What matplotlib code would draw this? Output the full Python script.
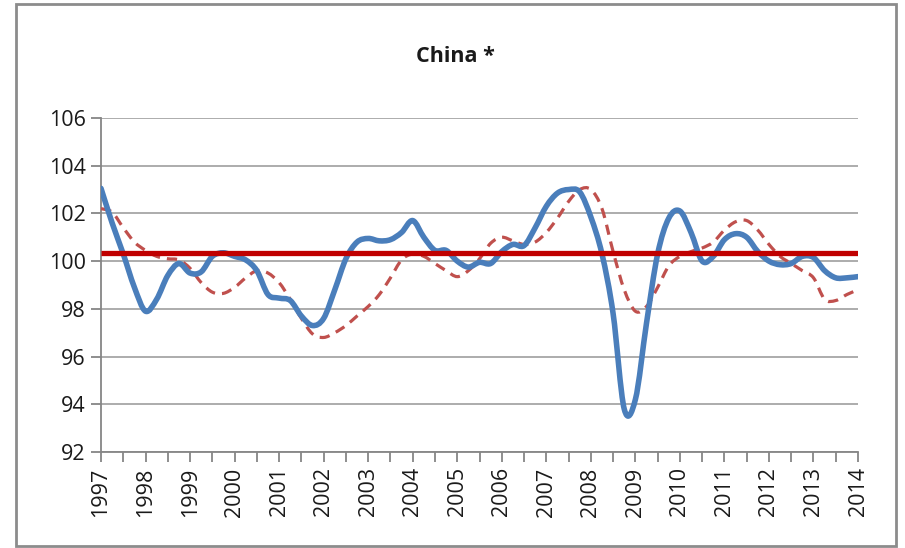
import numpy as np
import matplotlib
matplotlib.use("Agg")
import matplotlib.pyplot as plt
from matplotlib.path import Path
from matplotlib.patches import PathPatch, Rectangle

# quarterly values, 1997Q1 .. 2014Q1
quarters = 1997 + 0.25 * np.arange(69)

china_main = [
    103.05, 101.6, 100.3, 98.9, 97.9, 98.4, 99.4, 99.9,
    99.5, 99.55, 100.2, 100.35, 100.2, 100.05, 99.6, 98.6,
    98.45, 98.35, 97.7, 97.3, 97.6, 98.8, 100.1, 100.8,
    100.95, 100.85, 100.9, 101.2, 101.7, 101.0, 100.45, 100.45,
    100.0, 99.75, 99.95, 99.9, 100.4, 100.7, 100.65, 101.4,
    102.3, 102.85, 103.0, 102.9, 101.85, 100.3, 97.8, 93.8,
    94.2, 97.4, 100.3, 101.8, 102.1, 101.2, 100.0, 100.2,
    100.9, 101.15, 101.0, 100.4, 100.0, 99.85, 99.9, 100.2,
    100.15, 99.6, 99.3, 99.3, 99.35,
]

china_dashed = [
    102.2, 102.05, 101.4, 100.8, 100.45, 100.2, 100.1, 100.05,
    99.7, 99.1, 98.7, 98.65, 98.9, 99.3, 99.6, 99.5,
    99.1, 98.4, 97.6, 96.95, 96.8, 97.0, 97.3, 97.7,
    98.1, 98.6, 99.3, 100.05, 100.3, 100.2, 99.9, 99.6,
    99.35, 99.6, 100.1, 100.75, 101.0, 100.85, 100.7, 100.8,
    101.2, 101.8, 102.5, 103.0, 103.0, 102.2, 100.4, 98.8,
    97.9, 98.1, 98.9, 99.8, 100.2, 100.4, 100.55, 100.8,
    101.3, 101.65, 101.7, 101.3, 100.7, 100.2, 99.9, 99.6,
    99.3, 98.4, 98.35, 98.6, 98.8,
]

avg_level = 100.33
year_labels = [str(y) for y in range(1997, 2015)]
y_ticks = [92, 94, 96, 98, 100, 102, 104, 106]


def smooth_path(x, y):
    # Excel-style smoothed line: Catmull-Rom segments as cubic Beziers
    pts = np.column_stack([x, y])
    verts = [pts[0]]
    codes = [Path.MOVETO]
    n = len(pts)
    for i in range(n - 1):
        p0 = pts[max(i - 1, 0)]
        p1 = pts[i]
        p2 = pts[i + 1]
        p3 = pts[min(i + 2, n - 1)]
        c1 = p1 + (p2 - p0) / 6.0
        c2 = p2 - (p3 - p1) / 6.0
        verts += [c1, c2, p2]
        codes += [Path.CURVE4] * 3
    return Path(verts, codes)


plt.rcParams['font.family'] = ['Open Sans', 'DejaVu Sans']
fig = plt.figure(figsize=(9.05, 5.48), dpi=100)
ax = fig.add_axes([0.1116, 0.1752, 0.8365, 0.6095])

grid_c = '#a6a6a6'
for v in y_ticks:
    ax.axhline(v, color=grid_c, lw=1.3, zorder=1)

ax.add_patch(PathPatch(smooth_path(quarters, china_dashed), fill=False,
                       ec='#c0504d', lw=2.3, ls=(0, (3.2, 2.2)),
                       capstyle='butt', zorder=3))
ax.add_patch(PathPatch(smooth_path(quarters, china_main), fill=False,
                       ec='#4a7ebb', lw=4.0, capstyle='round',
                       joinstyle='round', zorder=4))
ax.plot(quarters[[0, -1]], [avg_level, avg_level], color='#c00000',
        lw=3.8, solid_capstyle='butt', zorder=5)

ax.set_xlim(1997, 2014)
ax.set_ylim(92, 106)
ax.set_yticks(y_ticks)
ax.set_yticklabels([str(v) for v in y_ticks])
ax.set_xticks(np.arange(1997, 2015))
ax.set_xticklabels(year_labels, rotation=90)
ax.set_xticks(np.arange(1997.5, 2014, 1.0), minor=True)

for s in ['top', 'right']:
    ax.spines[s].set_visible(False)
for s in ['left', 'bottom']:
    ax.spines[s].set_color('#868686')
    ax.spines[s].set_linewidth(1.3)
ax.tick_params(axis='both', which='both', direction='out', length=7,
               width=1.3, color='#868686', labelsize=15.5,
               labelcolor='#1a1a1a', pad=4)

fig.text(0.503, 0.897, 'China *', ha='center', va='center',
         fontsize=15.5, fontweight='bold', color='#1a1a1a')

fig.patches.append(Rectangle((16 / 905, 2 / 548), 880 / 905, 542 / 548,
                             transform=fig.transFigure, fill=False,
                             ec='#8c8c8c', lw=2.0))

fig.savefig('out.png', dpi=100)
